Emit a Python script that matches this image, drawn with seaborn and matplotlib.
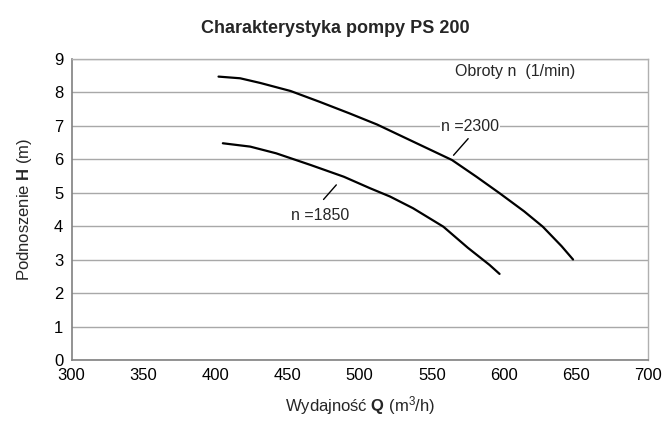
import matplotlib
matplotlib.use("Agg")
import matplotlib.pyplot as plt
import seaborn as sns
import pandas as pd

# Data
q_2300 = [402, 417, 431, 452, 472, 493, 512, 537, 564, 581, 597, 614, 627, 640, 648]
h_2300 = [8.46, 8.41, 8.27, 8.03, 7.71, 7.36, 7.03, 6.52, 5.97, 5.47, 4.98, 4.44, 3.98, 3.40, 3.00]
q_1850 = [405, 424, 442, 466, 489, 507, 521, 537, 558, 575, 590, 597]
h_1850 = [6.47, 6.37, 6.17, 5.82, 5.47, 5.13, 4.88, 4.53, 3.98, 3.35, 2.84, 2.57]
series_labels = ["n =2300", "n =1850"]
x_ticks = [300, 350, 400, 450, 500, 550, 600, 650, 700]
y_ticks = [0, 1, 2, 3, 4, 5, 6, 7, 8, 9]

title = "Charakterystyka pompy PS 200"
legend_title = "Obroty n  (1/min)"

df = pd.concat([
    pd.DataFrame({"Q": q_2300, "H": h_2300, "n": series_labels[0]}),
    pd.DataFrame({"Q": q_1850, "H": h_1850, "n": series_labels[1]}),
])

sns.set_theme(style="white")
plt.rcParams["font.family"] = ["Liberation Sans", "DejaVu Sans"]
plt.rcParams["mathtext.fontset"] = "custom"
plt.rcParams["mathtext.rm"] = "Liberation Sans"
plt.rcParams["mathtext.bf"] = "Liberation Sans:bold"

fig = plt.figure(figsize=(6.71, 4.37), dpi=100)
ax = fig.add_axes([0.1066, 0.1762, 0.8591, 0.6899])

sns.lineplot(data=df, x="Q", y="H", hue="n", palette=["black", "black"],
             linewidth=1.6, legend=False, ax=ax, sort=True)

ax.set_xlim(300, 700)
ax.set_ylim(0, 9)
ax.set_xticks(x_ticks)
ax.set_yticks(y_ticks)
ax.grid(axis="y", color="#a8a8a8", linewidth=1.0)
ax.grid(axis="x", visible=False)
for s in ["left", "bottom"]:
    ax.spines[s].set_color("#808080")
    ax.spines[s].set_linewidth(1.2)
for s in ["right", "top"]:
    ax.spines[s].set_color("#b0b0b0")
    ax.spines[s].set_linewidth(1.0)
ax.tick_params(axis="both", direction="out", length=5, width=1,
               color="#808080", labelsize=12, labelcolor="black", pad=1)

ax.set_xlabel("Wydajność $\\mathbf{Q}$ $\\mathrm{(m^{3}/h)}$", fontsize=12, labelpad=8)
ax.set_ylabel("Podnoszenie $\\mathbf{H}$ (m)", fontsize=12, labelpad=14)
fig.suptitle(title, fontsize=13, fontweight="bold", x=0.5, y=0.955)

ax.text(608, 8.6, legend_title, fontsize=11.5, ha="center", va="center")

ax.text(576.5, 6.96, series_labels[0], fontsize=11.5, ha="center", va="center",
        bbox=dict(facecolor="white", edgecolor="none", pad=0.5))
ax.annotate("", xy=(563.8, 6.05), xytext=(576.5, 6.67),
            arrowprops=dict(arrowstyle="-", color="black", lw=1.0))

ax.text(472.5, 4.31, series_labels[1], fontsize=11.5, ha="center", va="center")
ax.annotate("", xy=(485, 5.29), xytext=(473.6, 4.73),
            arrowprops=dict(arrowstyle="-", color="black", lw=1.0))

fig.savefig("out.png", dpi=100)
